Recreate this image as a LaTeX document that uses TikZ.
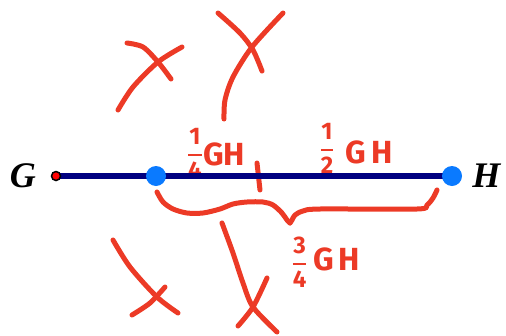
\documentclass[tikz,border=0pt]{standalone}
\usepackage{amsmath}
\usepackage{fontspec}
\newfontfamily\handfont{Fira Sans}
\newfontfamily\ptfont{Liberation Serif}
\usetikzlibrary{positioning}
\definecolor{ink}{RGB}{236,58,38}
\definecolor{segnavy}{RGB}{0,0,128}
\definecolor{dotblue}{RGB}{10,122,255}
% stacked handwritten fraction
\newcommand{\handfrac}[2]{$\genfrac{}{}{1.8pt}{0}{\text{\fontsize{24}{24}\selectfont#1}}{\text{\fontsize{24}{24}\selectfont#2}}$}

\begin{document}
\begin{tikzpicture}[x=1pt, y=-1pt,
  pen/.style={ink, line width=5pt, line cap=round, line join=round},
  hand/.style={ink, anchor=base, inner sep=0pt, font=\handfont\bfseries\fontsize{32}{34}\selectfont},
  vertex/.style={circle, fill=dotblue, minimum size=20pt, inner sep=0pt},
  ptname/.style={inner sep=0pt, font=\ptfont\bfseries\itshape\fontsize{36}{38}\selectfont}]

  \useasboundingbox (0,0) rectangle (506,335);

  % ---- crossed-out guesses, above and below ----
  \draw[pen] plot[smooth] coordinates {(127,43) (143,47) (158,62) (171,79)};
  \draw[pen] plot[smooth] coordinates {(182,47) (158,62) (133,87) (118,110)};
  \draw[pen] plot[smooth] coordinates {(218,13) (240,33) (253,50) (262,71)};
  \draw[pen] plot[smooth] coordinates {(283,13) (252,47) (233,77) (225,100) (224,119)};

  \draw[pen] plot[smooth] coordinates {(113,240) (130,267) (157,297) (178,313)};
  \draw[pen] plot[smooth] coordinates {(165,287) (150,303) (132,315)};
  \draw[pen] plot[smooth] coordinates {(222,223) (233,253) (243,283) (253,307) (277,332)};
  \draw[pen] plot[smooth] coordinates {(267,278) (253,307) (238,326)};

  % ---- handwritten parts ----
  \coordinate (tick) at (257,163);
  \draw[pen] (tick) -- ++(3,27);

  % brace under the segment, tip in the middle
  \draw[pen] plot[smooth] coordinates {(157,192) (163,202) (173,209) (187,213) (203,213)
    (220,209) (233,204) (247,202) (263,202) (273,205) (282,213) (287,220) (290,223)};
  \draw[pen] plot[smooth] coordinates {(290,223) (292,220) (295,215) (303,211) (320,209)
    (417,209) (427,205) (433,198) (437,190)};

  \node[hand] (quarter) at (216,165) {\raisebox{4pt}{\handfrac{1}{4}}GH};
  \node[hand] (half)    at (356,163) {\raisebox{7pt}{\handfrac{1}{2}}\,\,G\,H};
  \node[hand] (threeq)  at (326,270) {\handfrac{3}{4}\,G\,H};

  % ---- the segment GH ----
  \coordinate (G) at (56,176);
  \coordinate (Q) at (156,176);
  \coordinate (H) at (452,176);
  \draw[segnavy, line width=5.5pt] (G) -- (H);

  \node[circle, fill=red, draw=black, line width=1.5pt, minimum size=9pt, inner sep=0pt] (Gdot) at (G) {};
  \node[vertex] (Qdot) at (Q) {};
  \node[vertex] (Hdot) at (H) {};

  \node[ptname, left=20pt of Gdot.center] (Gname) {G};
  \node[ptname, right=10pt of Hdot] (Hname) {H};

\end{tikzpicture}
\end{document}
